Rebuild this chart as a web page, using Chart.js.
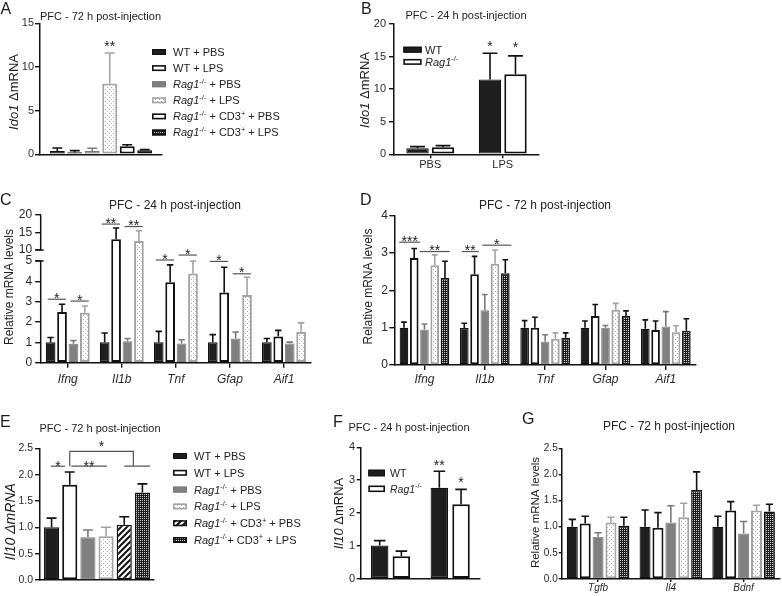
<!DOCTYPE html>
<html><head><meta charset="utf-8">
<script src="https://cdn.jsdelivr.net/npm/chart.js@4.4.1/dist/chart.umd.min.js"></script>
<style>
html,body{margin:0;padding:0;background:#fff;}
#wrap{position:relative;width:782px;height:596px;overflow:hidden;background:#fff;}
#wrap canvas{position:absolute;left:0;top:0;}
</style></head><body>
<div id="wrap">
<canvas id="cA" width="782" height="596"></canvas>
<canvas id="cB" width="782" height="596"></canvas>
<canvas id="cC" width="782" height="596"></canvas>
<canvas id="cD" width="782" height="596"></canvas>
<canvas id="cE" width="782" height="596"></canvas>
<canvas id="cF" width="782" height="596"></canvas>
<canvas id="cG" width="782" height="596"></canvas>
</div>
<script>
// ================= DATA =================
const groups6 = ['WT + PBS','WT + LPS','_Rag1_^{-/-} + PBS','_Rag1_^{-/-} + LPS','_Rag1_^{-/-} + CD3^{+} + PBS','_Rag1_^{-/-} + CD3^{+} + LPS'];
const groups6E = ['WT + PBS','WT + LPS','_Rag1_^{-/-} + PBS','_Rag1_^{-/-} + LPS','_Rag1_^{-/-} + CD3^{+} + PBS','_Rag1_^{-/-}+ CD3^{+} + LPS'];
const groups4 = ['WT + PBS','WT + LPS','_Rag1_^{-/-} + PBS','_Rag1_^{-/-} + LPS'];
const groups5 = ['WT + PBS','WT + LPS','_Rag1_^{-/-} + PBS','_Rag1_^{-/-} + LPS','_Rag1_^{-/-} + CD3^{+} + LPS'];
const genotypes = ['WT','_Rag1_^{-/-}'];
const treatments = ['PBS','LPS'];

// A: Ido1, PFC 72 h
const ido1_72h_mean = [0.38, 0.23, 0.38, 8.1, 0.92, 0.46];
const ido1_72h_sem  = [0.34, 0.19, 0.31, 3.5, 0.18, 0.07];

// B: Ido1, PFC 24 h (PBS, LPS)
const ido1_24h_wt      = [0.92, 11.5];
const ido1_24h_wt_sem  = [0.26, 4.0];
const ido1_24h_rag     = [1.07, 12.3];
const ido1_24h_rag_sem = [0.26, 2.8];

// C: PFC 24 h
const genesC = ['Ifng','Il1b','Tnf','Gfap','Aif1'];
const c_wtPBS  = [1.0, 1.0, 1.0, 1.0, 1.0];
const c_wtPBS_sem  = [0.24, 0.46, 0.54, 0.38, 0.19];
const c_wtLPS  = [2.49, 13.1, 3.95, 3.45, 1.29];
const c_wtLPS_sem  = [0.38, 3.2, 0.86, 1.24, 0.30];
const c_ragPBS = [0.93, 1.06, 0.95, 1.19, 0.95];
const c_ragPBS_sem = [0.16, 0.13, 0.18, 0.32, 0.06];
const c_ragLPS = [2.45, 12.6, 4.39, 3.33, 1.51];
const c_ragLPS_sem = [0.34, 2.9, 0.63, 0.87, 0.45];
const c_ticks = [0, 1, 2, 3, 4, 5, 10, 15, 20];

// D: PFC 72 h
const genesD = ['Ifng','Il1b','Tnf','Gfap','Aif1'];
const d_wtPBS  = [1.0, 0.99, 1.0, 1.0, 0.97];
const d_wtPBS_sem  = [0.15, 0.13, 0.19, 0.18, 0.24];
const d_wtLPS  = [2.87, 2.43, 1.0, 1.31, 0.94];
const d_wtLPS_sem  = [0.25, 0.48, 0.28, 0.31, 0.24];
const d_ragPBS = [0.95, 1.47, 0.62, 1.0, 1.03];
const d_ragPBS_sem = [0.15, 0.42, 0.19, 0.06, 0.40];
const d_ragLPS = [2.67, 2.71, 0.70, 1.48, 0.88];
const d_ragLPS_sem = [0.28, 0.37, 0.16, 0.17, 0.17];
const d_cd3LPS = [2.33, 2.46, 0.73, 1.31, 0.92];
const d_cd3LPS_sem = [0.45, 0.36, 0.13, 0.14, 0.32];

// E: Il10, PFC 72 h
const il10_72h_mean = [1.0, 1.81, 0.81, 0.83, 1.05, 1.66];
const il10_72h_sem  = [0.175, 0.24, 0.14, 0.17, 0.15, 0.165];

// F: Il10, PFC 24 h (PBS, LPS)
const il10_24h_wt      = [1.01, 2.77];
const il10_24h_wt_sem  = [0.15, 0.50];
const il10_24h_rag     = [0.68, 2.27];
const il10_24h_rag_sem = [0.16, 0.45];

// G: PFC 72 h
const genesG = ['Tgfb','Il4','Bdnf'];
const g_wtPBS  = [1.0, 1.0, 1.0];
const g_wtPBS_sem  = [0.14, 0.32, 0.20];
const g_wtLPS  = [1.06, 0.98, 1.31];
const g_wtLPS_sem  = [0.14, 0.29, 0.17];
const g_ragPBS = [0.81, 1.08, 0.87];
const g_ragPBS_sem = [0.075, 0.32, 0.23];
const g_ragLPS = [1.08, 1.18, 1.31];
const g_ragLPS_sem = [0.10, 0.27, 0.10];
const g_cd3LPS = [1.02, 1.70, 1.29];
const g_cd3LPS_sem = [0.16, 0.35, 0.14];

// ================= SETUP =================
const FONT = '"Liberation Sans", Arial, Helvetica, sans-serif';
const W = 782, H = 596;
Chart.defaults.font.family = FONT;
Chart.defaults.animation = false;

const C_BREAK = {lo: 5, hi: 10, lowerFrac: 0.6886, gapFrac: 0.0745};
class BrokenLinearScale extends Chart.LinearScale {
  buildTicks() { return c_ticks.map(v => ({value: v})); }
  getPixelForValue(v) {
    if (v === null || v === undefined || isNaN(v)) return NaN;
    const h = this.bottom - this.top;
    const lowH = h * C_BREAK.lowerFrac, gapH = h * C_BREAK.gapFrac, upH = h - lowH - gapH;
    if (v <= C_BREAK.lo) return this.bottom - (v - this.min) / (C_BREAK.lo - this.min) * lowH;
    if (v < C_BREAK.hi) return this.bottom - lowH - (v - C_BREAK.lo) / (C_BREAK.hi - C_BREAK.lo) * gapH;
    return this.bottom - lowH - gapH - (v - C_BREAK.hi) / (this.max - C_BREAK.hi) * upH;
  }
  getValueForPixel(p) {
    const h = this.bottom - this.top;
    const lowH = h * C_BREAK.lowerFrac, gapH = h * C_BREAK.gapFrac, upH = h - lowH - gapH;
    const d = this.bottom - p;
    if (d <= lowH) return this.min + d / lowH * (C_BREAK.lo - this.min);
    if (d <= lowH + gapH) return C_BREAK.lo + (d - lowH) / gapH * (C_BREAK.hi - C_BREAK.lo);
    return C_BREAK.hi + (d - lowH - gapH) / upH * (this.max - C_BREAK.hi);
  }
}
BrokenLinearScale.id = 'brokenLinear';
BrokenLinearScale.defaults = Chart.LinearScale.defaults;
Chart.register(BrokenLinearScale);

function makePattern(w, h, draw) {
  const c = document.createElement('canvas'); c.width = w; c.height = h;
  const g = c.getContext('2d'); draw(g, w, h);
  return document.getElementById('cA').getContext('2d').createPattern(c, 'repeat');
}
const PAT = {
  dots: makePattern(4, 4, (g) => { g.fillStyle = '#fff'; g.fillRect(0,0,4,4); g.fillStyle = '#a8a8a8'; g.fillRect(1,1,1,1); g.fillRect(3,3,1,1); }),
  check: makePattern(4, 4, (g) => { g.fillStyle = '#1c1c1c'; g.fillRect(0,0,4,4); g.fillStyle = '#d0d0d0'; g.fillRect(0,0,1,1); g.fillRect(2,2,1,1); g.fillRect(2,0,1,1); g.fillRect(0,2,1,1); }),
  hatch: makePattern(6, 6, (g) => { g.fillStyle = '#fff'; g.fillRect(0,0,6,6); g.strokeStyle = '#111'; g.lineWidth = 2;
    g.beginPath(); g.moveTo(0,6); g.lineTo(6,0); g.moveTo(-1,1); g.lineTo(1,-1); g.moveTo(5,7); g.lineTo(7,5); g.stroke(); })
};
const STY = {
  wtPBS:  {backgroundColor:'#1e1e1e', borderColor:'#111111', borderWidth:1.2},
  wtLPS:  {backgroundColor:'#ffffff', borderColor:'#111111', borderWidth:2},
  ragPBS: {backgroundColor:'#808080', borderColor:'#7a7a7a', borderWidth:1},
  ragLPS: {backgroundColor:PAT.dots,  borderColor:'#a3a3a3', borderWidth:2},
  cd3Open:{backgroundColor:'#ffffff', borderColor:'#111111', borderWidth:2},
  cd3Hatch:{backgroundColor:PAT.hatch, borderColor:'#111111', borderWidth:1.5},
  cd3LPS: {backgroundColor:PAT.check, borderColor:'#111111', borderWidth:1.5}
};
function mk(label, data, sem, key) {
  return Object.assign({label, data, sem, borderSkipped:false}, STY[key]);
}

function parseRich(s) {
  const segs = []; let i = 0, buf = '', ital = false;
  while (i < s.length) {
    const c = s[i];
    if (c === '_') { if (buf) segs.push({t:buf, i:ital}); buf = ''; ital = !ital; i++; }
    else if (c === '^' && s[i+1] === '{') { if (buf) segs.push({t:buf, i:ital}); buf = ''; const j = s.indexOf('}', i); segs.push({t:s.slice(i+2, j), i:ital, sup:true}); i = j + 1; }
    else { buf += c; i++; }
  }
  if (buf) segs.push({t:buf, i:ital});
  return segs;
}
function drawRich(ctx, str, x, cy, size, align, color) {
  const segs = parseRich(str);
  const fontOf = s => `${s.i ? 'italic ' : ''}${s.sup ? size * 0.68 : size}px ${FONT}`;
  let total = 0;
  const widths = segs.map(s => { ctx.font = fontOf(s); const w = ctx.measureText(s.t).width; total += w; return w; });
  let cx = align === 'center' ? x - total / 2 : (align === 'right' ? x - total : x);
  const base = cy + 0.36 * size;
  ctx.fillStyle = color || '#222'; ctx.textAlign = 'left'; ctx.textBaseline = 'alphabetic';
  segs.forEach((s, k) => { ctx.font = fontOf(s); ctx.fillText(s.t, cx, s.sup ? base - 0.42 * size : base); cx += widths[k]; });
}
function drawStar(ctx, t, x, cy, size) {
  ctx.font = `${size}px ${FONT}`; ctx.fillStyle = '#222'; ctx.textAlign = 'center'; ctx.textBaseline = 'alphabetic';
  ctx.fillText(t, x, cy + 0.58 * size);
}
function geom(chart, ds, cat) { const el = chart.getDatasetMeta(ds).data[cat]; return {x: el.x, w: el.width, y: el.y}; }

const errPlugin = {
  id: 'errbars',
  afterDatasetsDraw(chart) {
    const ctx = chart.ctx, ys = chart.scales.y;
    chart.data.datasets.forEach((ds, di) => {
      if (!ds.sem) return;
      chart.getDatasetMeta(di).data.forEach((bar, i) => {
        const v = ds.data[i], e = ds.sem[i];
        if (v == null || e == null) return;
        const top = ys.getPixelForValue(v + e);
        ctx.save();
        ctx.strokeStyle = ds.borderColor; ctx.lineWidth = 1.6; ctx.lineCap = 'butt';
        ctx.beginPath(); ctx.moveTo(bar.x, bar.y); ctx.lineTo(bar.x, top);
        const cw = bar.width * 0.33;
        ctx.moveTo(bar.x - cw, top); ctx.lineTo(bar.x + cw, top);
        ctx.stroke(); ctx.restore();
      });
    });
  }
};

const decorPlugin = {
  id: 'decor',
  afterDraw(chart, args, o) {
    const ctx = chart.ctx; ctx.save();
    if (o.yBreak) {
      const s = chart.scales.y, x = chart.chartArea.left;
      const pLo = s.getPixelForValue(o.yBreak.lo), pHi = s.getPixelForValue(o.yBreak.hi);
      ctx.strokeStyle = '#111'; ctx.lineWidth = 1.5; ctx.beginPath();
      ctx.moveTo(x, chart.chartArea.top); ctx.lineTo(x, pHi);
      ctx.moveTo(x, pLo); ctx.lineTo(x, chart.chartArea.bottom + 0.75);
      ctx.moveTo(x - 5.5, pHi); ctx.lineTo(x + 3, pHi);
      ctx.moveTo(x - 5.5, pLo); ctx.lineTo(x + 3, pLo);
      ctx.stroke();
    }
    if (o.letter) drawRich(ctx, o.letter.t, o.letter.x, o.letter.y, 16, 'left', '#1a1a1a');
    if (o.title) drawRich(ctx, o.title.t, o.title.x, o.title.y, o.title.size, 'center');
    if (o.yTitle) {
      ctx.save(); ctx.translate(o.yTitle.x, o.yTitle.y); ctx.rotate(-Math.PI / 2);
      drawRich(ctx, o.yTitle.t, 0, 0, o.yTitle.size, 'center'); ctx.restore();
    }
    if (o.legend) {
      const L = o.legend;
      chart.data.datasets.forEach((ds, i) => {
        const cy = L.y + i * L.dy, y0 = cy - L.h / 2;
        ctx.fillStyle = ds.backgroundColor; ctx.fillRect(L.x, y0, L.w, L.h);
        const bw = Math.min(ds.borderWidth, 1.6);
        ctx.strokeStyle = ds.borderColor; ctx.lineWidth = bw;
        ctx.strokeRect(L.x + bw / 2, y0 + bw / 2, L.w - bw, L.h - bw);
        drawRich(ctx, ds.label, L.tx, cy, L.size, 'left');
      });
    }
    (o.stars || []).forEach(s => {
      const g = geom(chart, s.ds, s.cat), d = chart.data.datasets[s.ds];
      const top = chart.scales.y.getPixelForValue(d.data[s.cat] + d.sem[s.cat]);
      drawStar(ctx, s.t, g.x, top - s.off, 14);
    });
    (o.brackets || []).forEach(b => {
      const ys = chart.scales.y.getPixelForValue(b.y);
      ctx.strokeStyle = '#555'; ctx.lineWidth = 1.2;
      if (b.kind === 'bridge') {
        const a = geom(chart, b.a, b.cat), p = geom(chart, b.b1, b.cat), q = geom(chart, b.b2, b.cat);
        const y2 = chart.scales.y.getPixelForValue(b.y2);
        const xr = (p.x + q.x) / 2;
        ctx.beginPath(); ctx.moveTo(a.x, y2); ctx.lineTo(a.x, ys); ctx.lineTo(xr, ys); ctx.lineTo(xr, y2);
        ctx.moveTo(p.x, y2); ctx.lineTo(q.x + q.w / 2, y2); ctx.stroke();
        drawStar(ctx, b.t, (a.x + xr) / 2, ys - (b.off || 9), 14);
      } else {
        const a = geom(chart, b.a, b.cat), c = geom(chart, b.b, b.cat);
        const f0 = (b.f0 === undefined) ? -0.3 : b.f0, f1 = (b.f1 === undefined) ? 0.4 : b.f1;
        const x0 = a.x + f0 * a.w, x1 = c.x + f1 * c.w;
        ctx.beginPath(); ctx.moveTo(x0, ys); ctx.lineTo(x1, ys); ctx.stroke();
        drawStar(ctx, b.t, (x0 + x1) / 2, ys - (b.off || 4.5), 14);
      }
    });
    ctx.restore();
  }
};
Chart.register(errPlugin, decorPlugin);

const Y_W = 30;   // reserved width of every y scale box (labels are clipped to it)
function yScale(o) {
  return {
    type: o.type || 'linear', min: o.min, max: o.max,
    afterFit: s => { s.width = Y_W; },
    ticks: {stepSize: o.step, autoSkip: false, font: {size: o.fs, family: FONT}, color: '#2a2a2a', padding: o.pad,
            callback: o.dec ? (v => Number(v).toFixed(o.dec)) : (v => String(v))},
    grid: {display: true, drawOnChartArea: false, drawTicks: true, tickLength: o.tl, color: '#111', lineWidth: 1.4},
    border: {display: o.border !== false, color: '#111', width: 1.5}
  };
}
function xScale(o, xh) {
  return {
    type: 'category', offset: true,
    afterFit: s => { s.height = xh; },
    ticks: {display: !!o.labels, autoSkip: false, maxRotation: 0, font: {size: o.fs || 11, style: o.italic ? 'italic' : 'normal', family: FONT}, color: '#2a2a2a', padding: o.pad || 0},
    grid: {display: true, offset: false, drawOnChartArea: false, drawTicks: !!o.tl, tickLength: o.tl || 0, color: '#111', lineWidth: 1.4},
    border: {display: true, color: '#111', width: 1.5}
  };
}
function makeChart(id, area, labels, datasets, cp, bp, xo, y, decor) {
  const xh = Math.min(30, H - area[3]);
  return new Chart(document.getElementById(id), {
    type: 'bar',
    data: {labels, datasets},
    options: {
      responsive: false, animation: false,
      layout: {padding: {left: area[0] - Y_W, top: area[1], right: W - area[2], bottom: H - area[3] - xh}},
      datasets: {bar: {categoryPercentage: cp, barPercentage: bp}},
      plugins: {legend: {display: false}, tooltip: {enabled: false}, decor},
      scales: {x: xScale(xo, xh), y}
    }
  });
}

// ---- A ----
const keysA = ['wtPBS','wtLPS','ragPBS','ragLPS','cd3Open','cd3LPS'];
makeChart('cA', [40, 23.3, 162, 154.3], [''],
  groups6.map((g, i) => mk(g, [ido1_72h_mean[i]], [ido1_72h_sem[i]], keysA[i])),
  0.86, 0.857,
  {labels: false},
  yScale({min: 0, max: 15, step: 5, fs: 11, pad: 1, tl: 5}),
  {letter: {t: 'A', x: 0.5, y: 8.3}, title: {t: 'PFC - 72 h post-injection', x: 100.5, y: 15.8, size: 11},
   yTitle: {t: '_Ido1_ ΔmRNA', x: 13.5, y: 92, size: 13},
   legend: {x: 152, y: 52, dy: 16.1, w: 14, h: 6, tx: 173, size: 11},
   stars: [{ds: 3, cat: 0, t: '**', off: 10}]});

// ---- B ----
makeChart('cB', [394, 24, 539, 154.3], treatments,
  [mk(genotypes[0], ido1_24h_wt, ido1_24h_wt_sem, 'wtPBS'), mk(genotypes[1], ido1_24h_rag, ido1_24h_rag_sem, 'wtLPS')],
  0.703, 0.88,
  {labels: true, fs: 11, tl: 4, pad: 0},
  yScale({min: 0, max: 20, step: 5, fs: 11, pad: 3, tl: 5}),
  {letter: {t: 'B', x: 361, y: 8.3}, title: {t: 'PFC - 24 h post-injection', x: 466, y: 15.5, size: 11},
   yTitle: {t: '_Ido1_ ΔmRNA', x: 364, y: 90, size: 13},
   legend: {x: 403.3, y: 49.7, dy: 12.2, w: 18.4, h: 6, tx: 425, size: 11},
   stars: [{ds: 0, cat: 1, t: '*', off: 10}, {ds: 1, cat: 1, t: '*', off: 12.5}]});

// ---- C ----
const keysC = ['wtPBS','wtLPS','ragPBS','ragLPS'];
const seriesC = [[c_wtPBS, c_wtPBS_sem], [c_wtLPS, c_wtLPS_sem], [c_ragPBS, c_ragPBS_sem], [c_ragLPS, c_ragLPS_sem]];
makeChart('cC', [40.7, 215, 311, 362.7], genesC,
  seriesC.map((s, i) => mk(groups4[i], s[0], s[1], keysC[i])),
  0.845, 0.85,
  {labels: true, italic: true, fs: 12, tl: 5, pad: 5},
  yScale({type: 'brokenLinear', min: 0, max: 20, fs: 12, pad: 3, tl: 5.5, border: false}),
  {letter: {t: 'C', x: 0, y: 199}, title: {t: 'PFC - 24 h post-injection', x: 175, y: 205, size: 12},
   yTitle: {t: 'Relative mRNA levels', x: 9, y: 287, size: 12},
   yBreak: {lo: 5, hi: 10},
   brackets: [
     {cat: 0, a: 0, b: 1, y: 3.12, t: '*'}, {cat: 0, a: 2, b: 3, y: 3.03, t: '*'},
     {cat: 1, a: 0, b: 1, y: 17.4, t: '**'}, {cat: 1, a: 2, b: 3, y: 16.7, t: '**'},
     {cat: 2, a: 0, b: 1, y: 5.45, t: '*'}, {cat: 2, a: 2, b: 3, y: 7.7, t: '*'},
     {cat: 3, a: 0, b: 1, y: 4.98, t: '*'}, {cat: 3, a: 2, b: 3, y: 4.37, t: '*'}]});

// ---- D ----
const keys5 = ['wtPBS','wtLPS','ragPBS','ragLPS','cd3LPS'];
const seriesD = [[d_wtPBS, d_wtPBS_sem], [d_wtLPS, d_wtLPS_sem], [d_ragPBS, d_ragPBS_sem], [d_ragLPS, d_ragLPS_sem], [d_cd3LPS, d_cd3LPS_sem]];
makeChart('cD', [394.3, 215.7, 696, 365], genesD,
  seriesD.map((s, i) => mk(groups5[i], s[0], s[1], keys5[i])),
  0.85, 0.84,
  {labels: true, italic: true, fs: 12, tl: 5, pad: 2},
  yScale({min: 0, max: 4, step: 1, fs: 12, pad: 1.5, tl: 5}),
  {letter: {t: 'D', x: 360, y: 199}, title: {t: 'PFC - 72 h post-injection', x: 545, y: 205, size: 12},
   yTitle: {t: 'Relative mRNA levels', x: 367.5, y: 286.5, size: 12},
   brackets: [
     {cat: 0, a: 0, b: 1, y: 3.29, t: '***', f0: -0.55, f1: 0.7}, {cat: 0, a: 2, b: 4, y: 3.04, t: '**', f0: -0.55, f1: 0.55},
     {cat: 1, a: 0, b: 1, y: 3.04, t: '**', f0: -0.3, f1: 0.5}, {cat: 1, a: 2, b: 4, y: 3.21, t: '*', f0: -0.3, f1: 0.7}]});

// ---- E ----
const keysE = ['wtPBS','wtLPS','ragPBS','ragLPS','cd3Hatch','cd3LPS'];
makeChart('cE', [40, 448.3, 154, 580], [''],
  groups6E.map((g, i) => mk(g, [il10_72h_mean[i]], [il10_72h_sem[i]], keysE[i])),
  0.956, 0.833,
  {labels: false},
  yScale({min: 0, max: 2.5, step: 0.5, dec: 1, fs: 10.5, pad: 2, tl: 5}),
  {letter: {t: 'E', x: 0, y: 421}, title: {t: 'PFC - 72 h post-injection', x: 100, y: 428, size: 11},
   yTitle: {t: '_Il10 ΔmRNA_', x: 10, y: 521.7, size: 14},
   legend: {x: 173, y: 456, dy: 16.8, w: 14, h: 6, tx: 194, size: 11},
   brackets: [
     {cat: 0, a: 0, b: 1, y: 2.16, t: '*', f0: -0.05, f1: -0.3, off: 3.5},
     {cat: 0, a: 1, b: 3, y: 2.16, t: '**', f0: 0.1, f1: 0.05, off: 3.5},
     {cat: 0, kind: 'bridge', a: 1, b1: 4, b2: 5, y: 2.44, y2: 2.16, t: '*', off: 9}]});

// ---- F ----
makeChart('cF', [360.7, 447.3, 480, 578.7], treatments,
  [mk(genotypes[0], il10_24h_wt, il10_24h_wt_sem, 'wtPBS'), mk(genotypes[1], il10_24h_rag, il10_24h_rag_sem, 'wtLPS')],
  0.728, 0.806,
  {labels: false},
  yScale({min: 0, max: 4, step: 1, fs: 11, pad: 1.5, tl: 4}),
  {letter: {t: 'F', x: 333, y: 421}, title: {t: 'PFC - 24 h post-injection', x: 409, y: 427.3, size: 11},
   yTitle: {t: '_Il10_ ΔmRNA', x: 338.3, y: 513.5, size: 13},
   legend: {x: 368.3, y: 473, dy: 15.8, w: 16.7, h: 6.6, tx: 390, size: 10.5},
   stars: [{ds: 0, cat: 1, t: '**', off: 9}, {ds: 1, cat: 1, t: '*', off: 10}]});

// ---- G ----
const seriesG = [[g_wtPBS, g_wtPBS_sem], [g_wtLPS, g_wtLPS_sem], [g_ragPBS, g_ragPBS_sem], [g_ragLPS, g_ragLPS_sem], [g_cd3LPS, g_cd3LPS_sem]];
makeChart('cG', [561.7, 448.3, 780, 579], genesG,
  seriesG.map((s, i) => mk(groups5[i], s[0], s[1], keys5[i])),
  0.886, 0.853,
  {labels: true, italic: true, fs: 10, tl: 3, pad: 0},
  yScale({min: 0, max: 2.5, step: 0.5, dec: 1, fs: 10, pad: 1, tl: 3}),
  {letter: {t: 'G', x: 522, y: 418.5}, title: {t: 'PFC - 72 h post-injection', x: 669, y: 426, size: 12},
   yTitle: {t: 'Relative mRNA levels', x: 535, y: 512.5, size: 11.5}});
</script>
</body></html>
